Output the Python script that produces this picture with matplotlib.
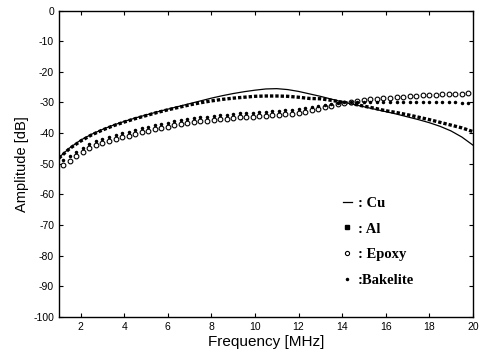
import matplotlib
matplotlib.use('Agg')
from matplotlib import pyplot as plt
from matplotlib.lines import Line2D

plt.rcParams['axes.unicode_minus'] = False

# Cu and Al curves
freq_ca = [1.0, 1.5, 2.0, 2.5, 3.0, 3.5, 4.0, 4.5, 5.0, 5.5, 6.0, 6.5, 7.0, 7.5,
           8.0, 8.5, 9.0, 9.5, 10.0, 10.5, 11.0, 11.5, 12.0, 12.5, 13.0, 13.5,
           14.0, 14.5, 15.0, 15.5, 16.0, 16.5, 17.0, 17.5, 18.0, 18.5, 19.0,
           19.5, 20.0]
cu = [-48.0, -44.8, -42.3, -40.4, -38.8, -37.4, -36.2, -35.1, -34.1, -33.1,
      -32.2, -31.3, -30.4, -29.5, -28.6, -27.8, -27.1, -26.5, -26.0, -25.6,
      -25.5, -25.8, -26.4, -27.2, -28.0, -28.9, -29.8, -30.6, -31.4, -32.2,
      -33.0, -33.8, -34.7, -35.6, -36.6, -37.8, -39.3, -41.3, -43.9]
al = [-48.2, -45.0, -42.6, -40.6, -39.0, -37.6, -36.4, -35.3, -34.3, -33.3,
      -32.4, -31.6, -30.8, -30.1, -29.5, -29.0, -28.6, -28.3, -28.0, -27.9,
      -27.9, -28.0, -28.3, -28.7, -28.8, -29.3, -29.9, -30.5, -31.2, -31.9,
      -32.7, -33.3, -34.0, -34.8, -35.6, -36.5, -37.4, -38.3, -39.5]

# Epoxy and Bakelite points
freq_eb = [1.2, 1.5, 1.8, 2.1, 2.4, 2.7, 3.0, 3.3, 3.6, 3.9, 4.2, 4.5, 4.8,
           5.1, 5.4, 5.7, 6.0, 6.3, 6.6, 6.9, 7.2, 7.5, 7.8, 8.1, 8.4, 8.7,
           9.0, 9.3, 9.6, 9.9, 10.2, 10.5, 10.8, 11.1, 11.4, 11.7, 12.0, 12.3,
           12.6, 12.9, 13.2, 13.5, 13.8, 14.1, 14.4, 14.7, 15.0, 15.3, 15.6,
           15.9, 16.2, 16.5, 16.8, 17.1, 17.4, 17.7, 18.0, 18.3, 18.6, 18.9,
           19.2, 19.5, 19.8]
epoxy = [-50.3, -49.0, -47.5, -46.2, -45.0, -44.0, -43.2, -42.5, -41.9, -41.3,
         -40.8, -40.3, -39.8, -39.3, -38.8, -38.3, -37.9, -37.5, -37.1, -36.8,
         -36.5, -36.2, -35.9, -35.7, -35.5, -35.3, -35.1, -34.9, -34.8, -34.6,
         -34.5, -34.4, -34.2, -34.1, -33.9, -33.7, -33.4, -33.0, -32.5, -32.0,
         -31.5, -31.0, -30.5, -30.1, -29.7, -29.4, -29.2, -29.0, -28.8, -28.6,
         -28.4, -28.3, -28.1, -28.0, -27.8, -27.7, -27.6, -27.5, -27.4, -27.3,
         -27.2, -27.1, -27.0]
bakelite = [-48.8, -47.6, -46.2, -44.9, -43.7, -42.7, -41.9, -41.2, -40.6,
            -40.0, -39.5, -39.0, -38.5, -38.0, -37.5, -37.0, -36.6, -36.2,
            -35.8, -35.5, -35.2, -34.9, -34.6, -34.4, -34.2, -34.0, -33.8,
            -33.6, -33.5, -33.3, -33.2, -33.1, -32.9, -32.8, -32.6, -32.4,
            -32.1, -31.8, -31.5, -31.1, -30.7, -30.4, -30.2, -30.0, -30.0,
            -29.9, -29.9, -29.9, -29.9, -29.9, -29.9, -30.0, -30.0, -30.0,
            -30.0, -30.0, -30.0, -30.0, -30.0, -30.0, -30.0, -30.1, -30.1]

fig = plt.figure(figsize=(4.79, 3.63), dpi=100)
ax = fig.add_axes([0.123, 0.127, 0.864, 0.844])

ax.plot(freq_ca, cu, color='black', lw=0.9)
ax.plot(freq_ca, al, color='black', lw=2.4, linestyle=(0, (1.0, 0.6)))
ax.plot(freq_eb, epoxy, 'o', ms=3.4, mfc='white', mec='black', mew=0.8)
ax.plot(freq_eb, bakelite, 'o', ms=1.5, color='black')

ax.set_xlim(1, 20)
ax.set_ylim(-100, 0)
ax.set_xticks(range(2, 21, 2))
ax.set_yticks(range(-100, 1, 10))
ax.tick_params(direction='in', length=3, top=True, right=True,
               labelsize=7.5, width=0.8)
for s in ax.spines.values():
    s.set_linewidth(1.0)

ax.set_xlabel('Frequency [MHz]', fontsize=11, family='Liberation Sans', labelpad=2)
ax.set_ylabel('Amplitude [dB]', fontsize=10.5, family='Liberation Sans', labelpad=3)
for lab in ax.get_xticklabels() + ax.get_yticklabels():
    lab.set_family('Liberation Sans')

handles = [Line2D([], [], color='black', lw=0.9),
           Line2D([], [], ls='none', marker='s', ms=2.5, color='black'),
           Line2D([], [], ls='none', marker='o', ms=3, mfc='white', mec='black', mew=0.8),
           Line2D([], [], ls='none', marker='o', ms=1.5, color='black')]
labels = [': Cu', ': Al', ': Epoxy', ':Bakelite']
ax.legend(handles, labels, loc='upper left', bbox_to_anchor=(0.655, 0.435),
          frameon=False, handlelength=0.6, handletextpad=0.4, labelspacing=0.85,
          prop={'family': 'Liberation Serif', 'weight': 'bold', 'size': 10.5})

fig.savefig('out.png', dpi=100)
